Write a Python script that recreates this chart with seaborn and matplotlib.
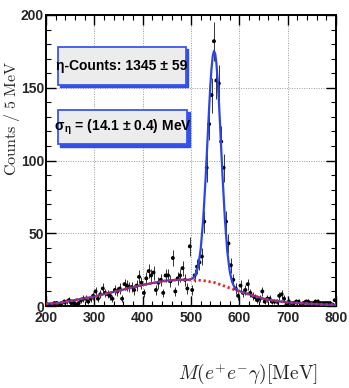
import numpy as np
import pandas as pd
import seaborn as sns
import matplotlib
matplotlib.use("Agg")
import matplotlib.pyplot as plt
from matplotlib.patches import Rectangle
from matplotlib.ticker import MultipleLocator
from matplotlib import font_manager

# ---- data ----
bin_centers = [202.5 + 5 * i for i in range(120)]
counts = [
    1, 1, 1, 2, 2, 1, 2, 3, 3, 4,
    2, 2, 1, 2, 4, 5, 5, 3, 5, 7,
    10, 5, 8, 12, 9, 8, 7, 5, 11, 10,
    12, 5, 15, 14, 13, 13, 11, 14, 20, 16,
    9, 19, 24, 21, 23, 11, 16, 18, 9, 21,
    21, 17, 33, 10, 19, 21, 26, 18, 12, 41,
    11, 21, 27, 30, 34, 58, 95, 125, 145, 182,
    155, 153, 113, 95, 58, 43, 28, 18, 12, 7,
    14, 9, 11, 15, 9, 7, 6, 4, 5, 10,
    3, 5, 5, 3, 3, 3, 7, 8, 5, 1,
    3, 2, 2, 3, 3, 1, 2, 3, 3, 2,
    2, 3, 3, 2, 2, 2, 2, 2, 1, 4,
]

bg_x = [200, 225, 250, 275, 300, 325, 350, 375, 400, 425, 450, 475, 500,
        525, 550, 575, 600, 625, 650, 675, 700, 725, 750, 775, 800]
bg_y = [1.5, 2, 3.5, 5, 6.5, 8.5, 10.5, 12.5, 14.5, 16, 17.5, 18, 18,
        17.5, 16, 13, 10, 7.5, 5, 3.5, 2.5, 2, 1.5, 1, 0.8]

fit_x = [200, 225, 250, 275, 300, 325, 350, 375, 400, 425, 450, 475, 495,
         500, 505, 510, 515, 520, 525, 530, 535, 537.5, 540, 542.5, 545,
         547.5, 550, 552.5, 555, 557.5, 560, 565, 570, 575, 580, 585, 590,
         595, 600, 625, 650, 675, 700, 725, 750, 775, 800]
fit_y = [1.5, 2, 3.5, 5, 6.5, 8.5, 10.5, 12.5, 14.5, 16, 17.5, 18, 18,
         18.4, 19.4, 21.8, 27.5, 38.9, 58.5, 86.3, 119.8, 136, 151.6, 163.6, 171.8,
         175.3, 173.4, 167, 156, 141.8, 125.4, 90.8, 60.4, 37.8, 24.1, 16.6, 12.8,
         11.1, 10.2, 7.5, 5, 3.5, 2.5, 2, 1.5, 1, 0.8]

x_ticks = [200, 300, 400, 500, 600, 700, 800]
y_ticks = [0, 50, 100, 150, 200]
label_counts = "η-Counts: 1345 ± 59"
label_sigma = r"σ$_{\mathregular{η}}$ = (14.1 ± 0.4) MeV"

df = pd.DataFrame({"m": bin_centers, "n": counts})
df["err"] = np.sqrt(df["n"])
fit_df = pd.DataFrame({"m": fit_x, "y": fit_y})
bg_df = pd.DataFrame({"m": bg_x, "y": bg_y})

sns.set_theme(style="white")
plt.rcParams["mathtext.fontset"] = "cm"

names = {f.name for f in font_manager.fontManager.ttflist}
narrow = "Liberation Sans Narrow" if "Liberation Sans Narrow" in names else "Liberation Sans"
plt.rcParams["font.family"] = [narrow, "DejaVu Sans"]

fig = plt.figure(figsize=(3.49, 3.88), dpi=100)
ax = fig.add_axes([46 / 349, 1 - 306 / 388, 290 / 349, 291 / 388])

ax.grid(True, which="major", color="#999999", linestyle=(0, (1, 1.5)), linewidth=0.7)
ax.set_axisbelow(True)

ax.errorbar(df["m"], df["n"], yerr=df["err"], fmt="none", ecolor="#333333",
            elinewidth=0.7, capsize=0, zorder=3)
sns.scatterplot(data=df, x="m", y="n", ax=ax, color="black", s=8,
                edgecolor="none", zorder=4, legend=False)
sns.lineplot(data=fit_df, x="m", y="y", ax=ax, color="#2b45e6", linewidth=1.6,
             zorder=5, sort=False)
sns.lineplot(data=bg_df, x="m", y="y", ax=ax, color="#ee2222", linewidth=2.0,
             linestyle=(0, (0.8, 1.0)), zorder=6)

ax.set_xlim(200, 800)
ax.set_ylim(0, 200)
ax.set_xticks(x_ticks)
ax.set_yticks(y_ticks)
ax.xaxis.set_minor_locator(MultipleLocator(20))
ax.yaxis.set_minor_locator(MultipleLocator(10))
ax.tick_params(which="both", direction="in", top=True, right=True,
               bottom=True, left=True, color="black")
ax.tick_params(which="major", length=7, width=1.0)
ax.tick_params(axis="y", which="major", pad=1.5)
ax.tick_params(axis="x", which="major", pad=3.5)
ax.tick_params(which="minor", length=3.5, width=0.8)
for lab in ax.get_xticklabels() + ax.get_yticklabels():
    lab.set_fontweight("bold")
    lab.set_fontsize(10)
    lab.set_family([narrow, "DejaVu Sans"])
for s in ax.spines.values():
    s.set_color("black")
    s.set_linewidth(1.4)

ax.set_xlabel(r"$M(e^{+}e^{-}\gamma)[\mathrm{MeV}]$", fontsize=14)
ax.xaxis.set_label_coords(0.695, -0.19)
ax.set_ylabel(r"$\mathrm{Counts\ /\ 5\ MeV}$", fontsize=11.5)
ax.yaxis.set_label_coords(-0.084, 0.646)

def box(x0, y0, w, h, text):
    dx, dy = 0.008, -0.008
    ax.add_patch(Rectangle((x0 + dx, y0 + dy), w, h, transform=ax.transAxes,
                           facecolor="#3050e8", edgecolor="#3050e8", linewidth=1.0,
                           zorder=7))
    ax.add_patch(Rectangle((x0, y0), w, h, transform=ax.transAxes,
                           facecolor="#ececec", edgecolor="#3a55ee", linewidth=1.3,
                           zorder=8))
    ax.text(x0 + w / 2, y0 + h / 2, text, transform=ax.transAxes, ha="center",
            va="center", fontsize=10, fontweight="bold",
            family=[narrow, "DejaVu Sans"], color="black", zorder=9)

box(0.042, 0.76, 0.44, 0.13, label_counts)
box(0.042, 0.555, 0.445, 0.12, label_sigma)

fig.savefig("out.png", dpi=100)
